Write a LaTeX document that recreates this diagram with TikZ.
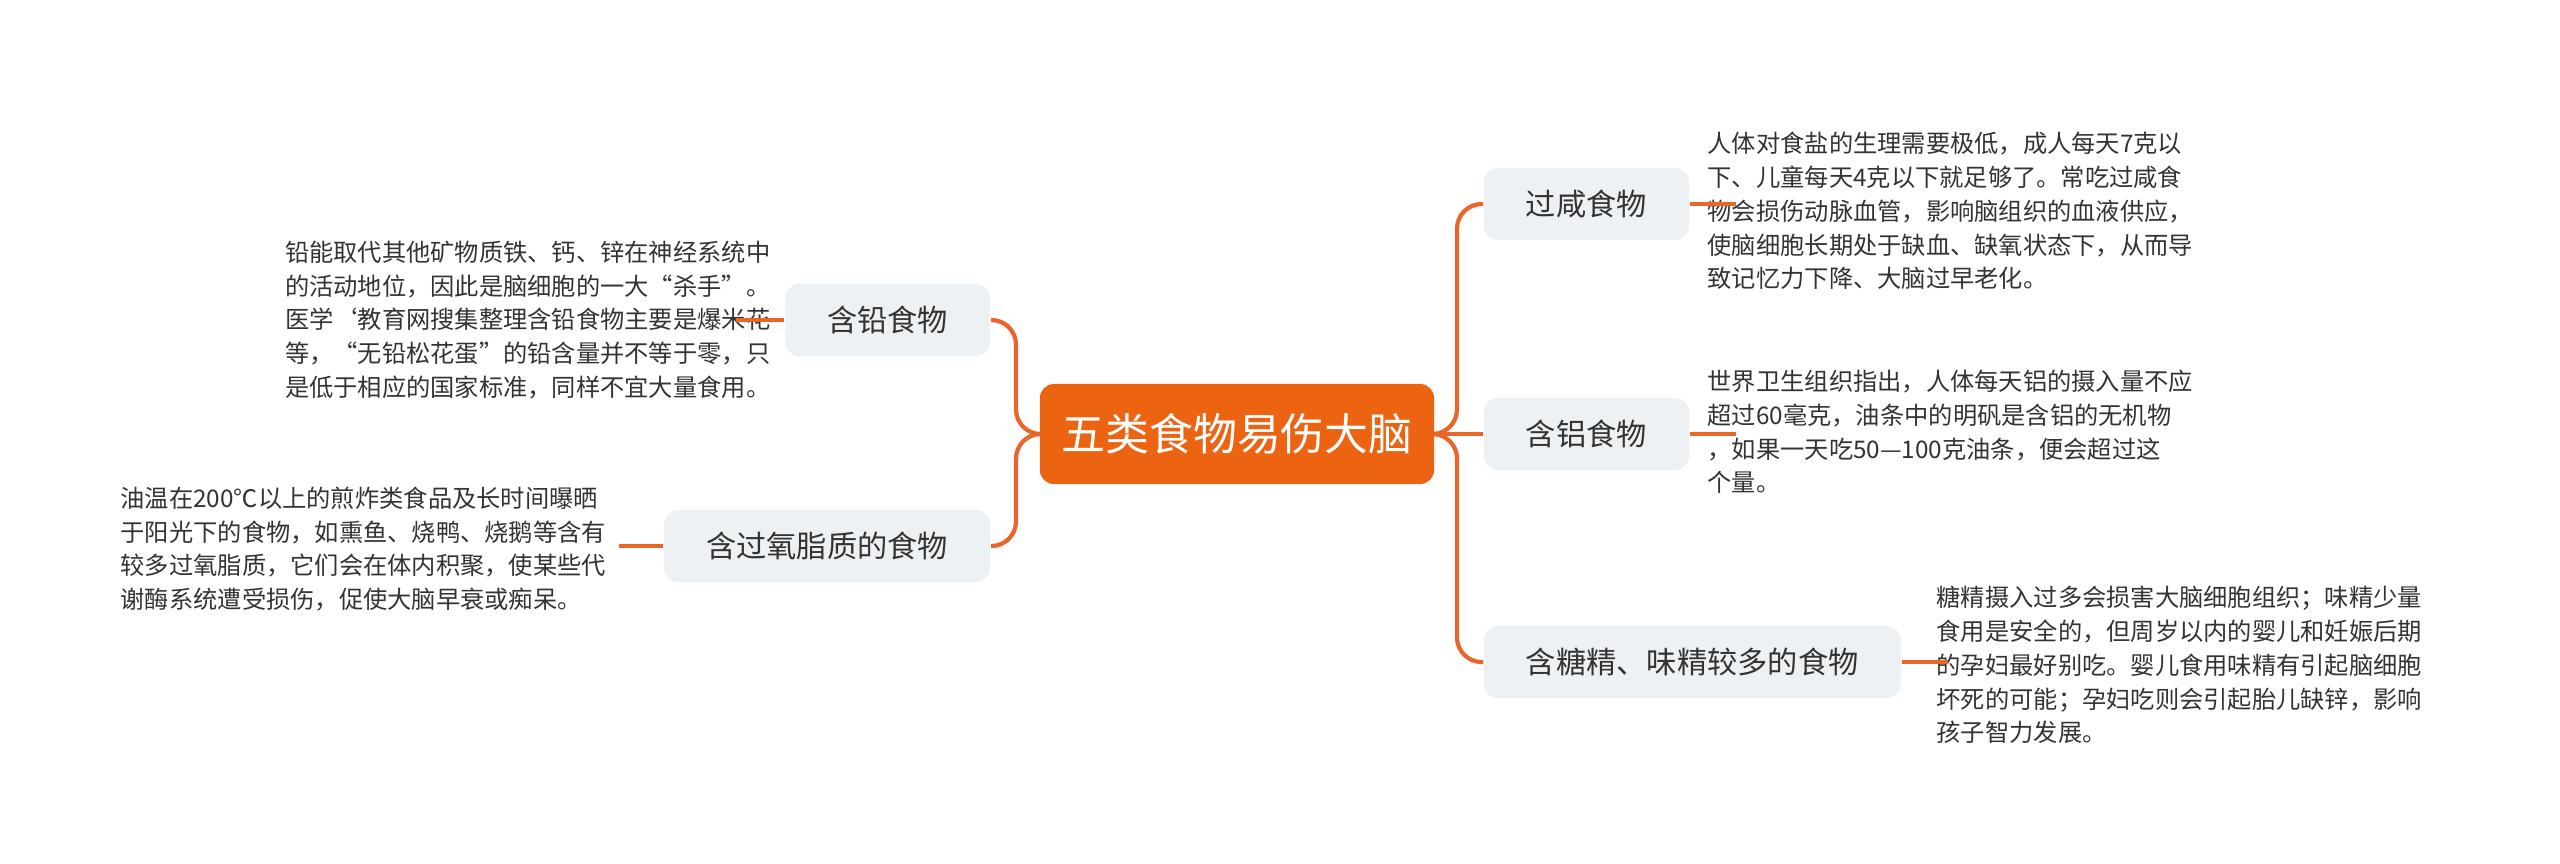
\documentclass[tikz,border=0pt]{standalone}
\usepackage{fontspec}
\setmainfont{Noto Sans CJK SC}
\tikzset{
  rootbox/.style={fill=rootorange, rounded corners=4pt, text=white, font=\fontsize{12.5pt}{14pt}\selectfont,
    minimum width=3.94cm, minimum height=1cm},
  topicbox/.style={fill=topicgrey, rounded corners=4pt, text=textgrey, font=\fontsize{8.6pt}{10pt}\selectfont,
    minimum height=0.72cm, inner xsep=12pt},
  notetext/.style={align=left, text=textgrey, font=\fontsize{6.9pt}{9.6pt}\selectfont, inner sep=0pt},
  link/.style={draw=lineorange, line width=1.2pt, rounded corners=7pt}
}
\definecolor{rootorange}{HTML}{EC6412}
\definecolor{lineorange}{HTML}{E8662A}
\definecolor{topicgrey}{HTML}{EEF1F4}
\definecolor{textgrey}{HTML}{333333}
\begin{document}
\begin{tikzpicture}[x=0.01cm, y=-0.01cm]
    \useasboundingbox (0,0) rectangle (2560,863);

    % Centre
    \node[rootbox] (root) at (1237,434) {五类食物易伤大脑};

    % Topics, left side
    \node[topicbox, anchor=east] (lead) at (991,320) {含铅食物};
    \node[topicbox, anchor=east] (peroxide) at (991,546) {含过氧脂质的食物};

    % Topics, right side
    \node[topicbox, anchor=west] (salt) at (1483,204) {过咸食物};
    \node[topicbox, anchor=west] (alum) at (1483,434) {含铝食物};
    \node[topicbox, anchor=west] (sugar) at (1483,662) {含糖精、味精较多的食物};

    % Notes
    \node[notetext, anchor=east] (leadnote) at (771,320) {铅能取代其他矿物质铁、钙、锌在神经系统中\\的活动地位，因此是脑细胞的一大“杀手”。\\医学`教育网搜集整理含铅食物主要是爆米花\\等，“无铅松花蛋”的铅含量并不等于零，只\\是低于相应的国家标准，同样不宜大量食用。};
    \node[notetext, anchor=west] (peroxnote) at (120,549) {油温在200℃以上的煎炸类食品及长时间曝晒\\于阳光下的食物，如熏鱼、烧鸭、烧鹅等含有\\较多过氧脂质，它们会在体内积聚，使某些代\\谢酶系统遭受损伤，促使大脑早衰或痴呆。};
    \node[notetext, anchor=west] (saltnote) at (1707,211) {人体对食盐的生理需要极低，成人每天7克以\\下、儿童每天4克以下就足够了。常吃过咸食\\物会损伤动脉血管，影响脑组织的血液供应，\\使脑细胞长期处于缺血、缺氧状态下，从而导\\致记忆力下降、大脑过早老化。};
    \node[notetext, anchor=west] (alumnote) at (1707,432) {世界卫生组织指出，人体每天铝的摄入量不应\\超过60毫克，油条中的明矾是含铝的无机物\\，如果一天吃50—100克油条，便会超过这\\个量。};
    \node[notetext, anchor=west] (sugarnote) at (1936,665) {糖精摄入过多会损害大脑细胞组织；味精少量\\食用是安全的，但周岁以内的婴儿和妊娠后期\\的孕妇最好别吃。婴儿食用味精有引起脑细胞\\坏死的可能；孕妇吃则会引起胎儿缺锌，影响\\孩子智力发展。};

    % Branches
    \draw[link] (root.east) -- (1457,434) |- (salt.west);
    \draw[link] (root.east) -- (alum.west);
    \draw[link] (root.east) -- (1457,434) |- (sugar.west);
    \draw[link] (root.west) -- (1016,434) |- (lead.east);
    \draw[link] (root.west) -- (1016,434) |- (peroxide.east);

    % Notes
    \draw[link] (lead.west) -- ++(-48,0);
    \draw[link] (peroxide.west) -- ++(-44,0);
    \draw[link] (salt.east) -- ++(46,0);
    \draw[link] (alum.east) -- ++(46,0);
    \draw[link] (sugar.east) -- ++(46,0);

\end{tikzpicture}
\end{document}
